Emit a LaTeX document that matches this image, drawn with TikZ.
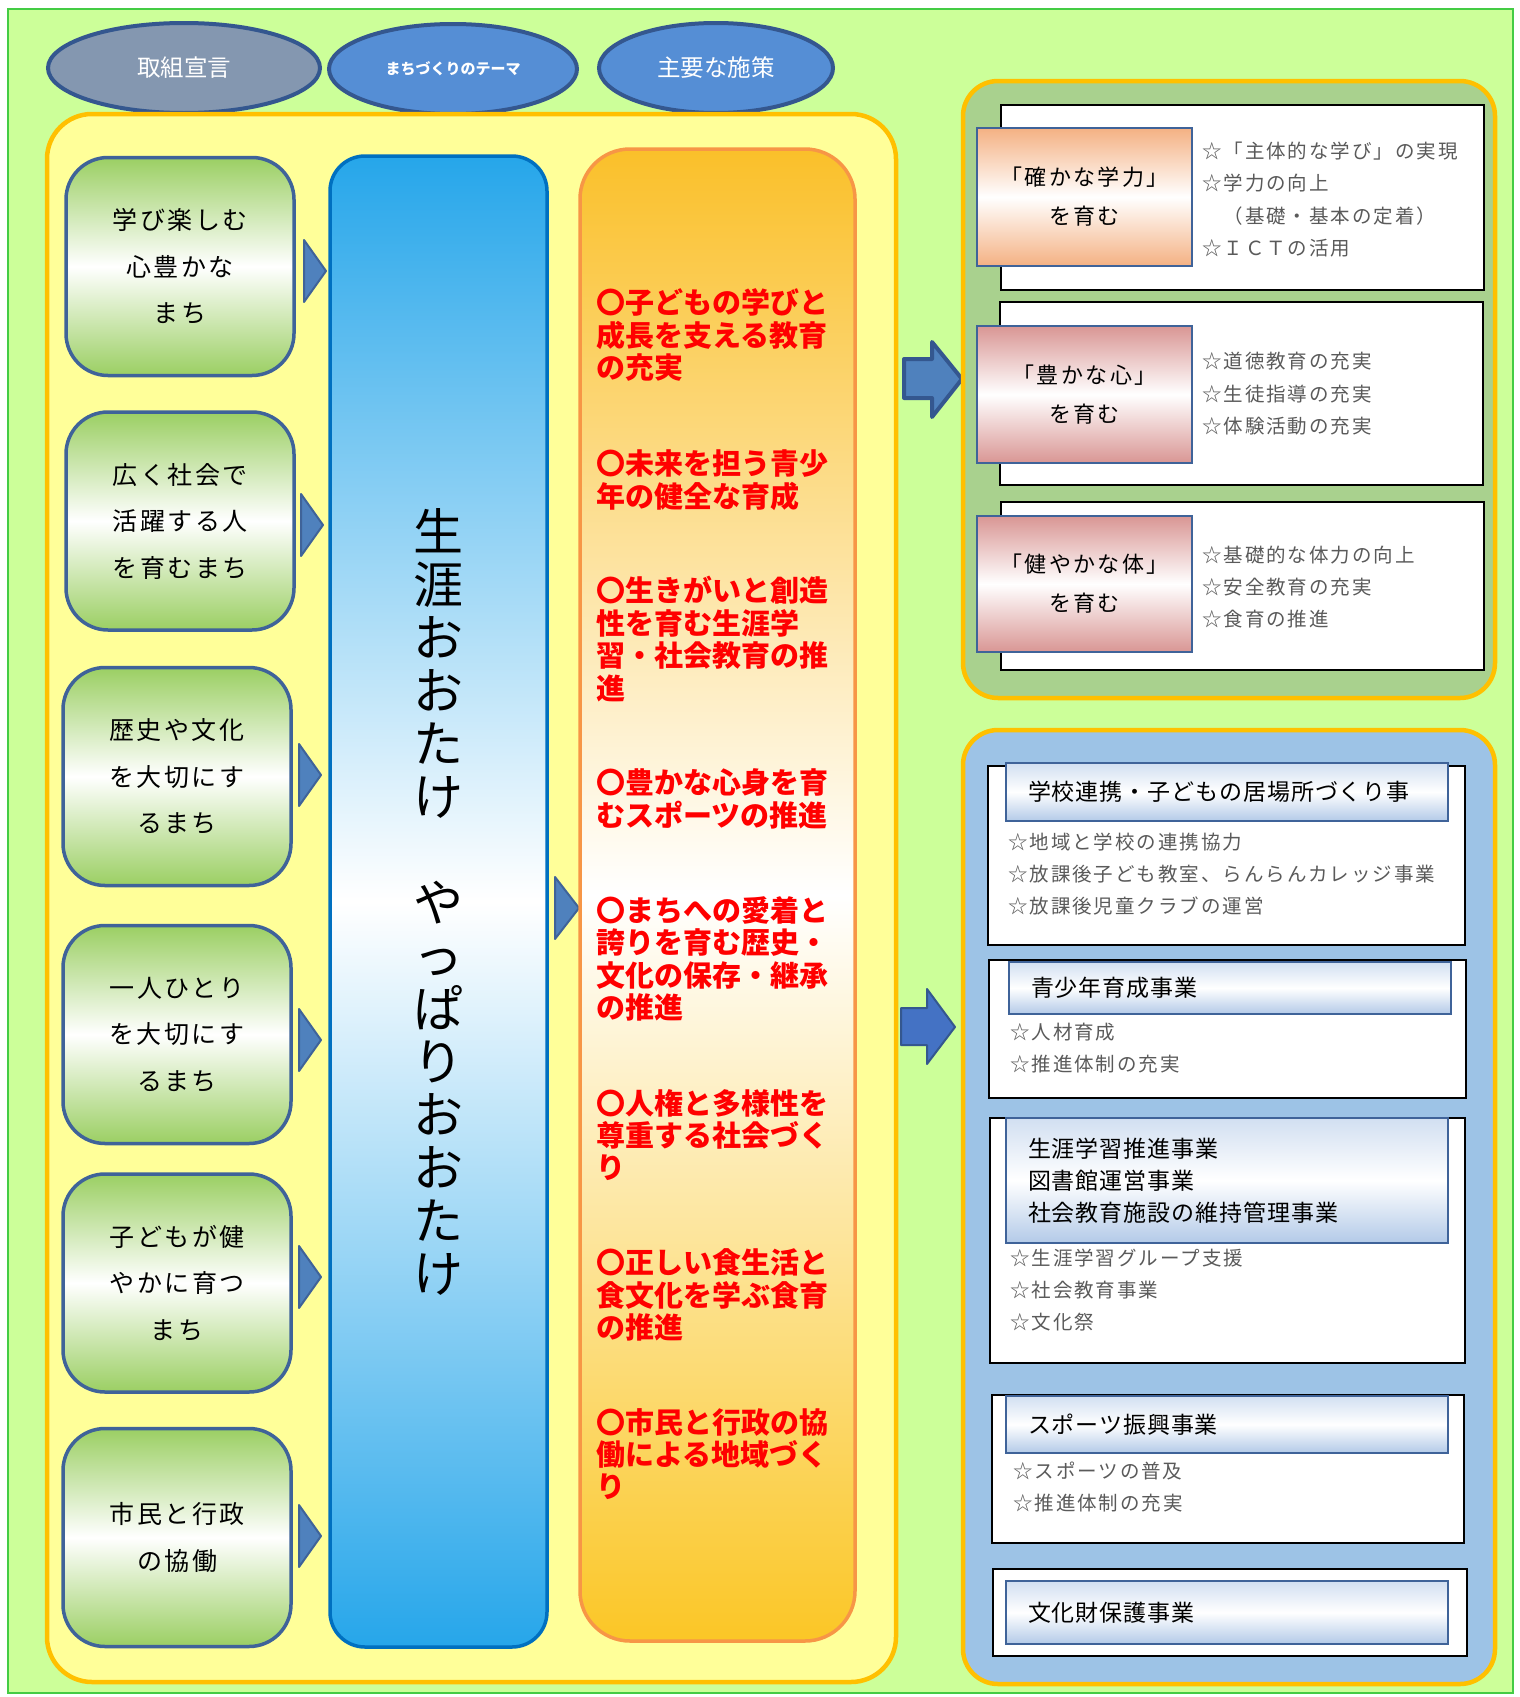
\documentclass[tikz,border=0pt]{standalone}
\usepackage{fontspec}
\setmainfont{Noto Sans CJK JP}
\newfontfamily\jp{Noto Sans CJK JP}
\newfontfamily\jpwide[LetterSpace=10]{Noto Sans CJK JP}
\newfontfamily\jpbadge[LetterSpace=11]{Noto Sans CJK JP}
\newfontfamily\jpbar[LetterSpace=4]{Noto Sans CJK JP}
\usetikzlibrary{shapes.geometric}

\definecolor{bggreen}{HTML}{CCFF99}
\definecolor{framegreen}{HTML}{44CC44}
\definecolor{paleyellow}{HTML}{FFFF99}
\definecolor{gold}{HTML}{FFC000}
\definecolor{navy}{HTML}{3F6399}
\definecolor{ringblue}{HTML}{34578F}
\definecolor{slate}{HTML}{8497B0}
\definecolor{skyblue}{HTML}{558ED5}
\definecolor{leaf}{HTML}{9BCF63}
\definecolor{sea}{HTML}{26A6EA}
\definecolor{seaedge}{HTML}{0070C0}
\definecolor{amber}{HTML}{FAC02A}
\definecolor{amberedge}{HTML}{F79646}
\definecolor{peach}{HTML}{F4B183}
\definecolor{rose}{HTML}{D99694}
\definecolor{olive}{HTML}{A9D18E}
\definecolor{iceblue}{HTML}{9DC3E6}
\definecolor{barblue}{HTML}{B3CAE8}
\definecolor{arrowblue}{HTML}{4F81BD}
\definecolor{royal}{HTML}{4472C4}
\definecolor{itemgray}{HTML}{5A5A5A}

\tikzset{
  heading/.style  = {ellipse, draw=ringblue, line width=4pt, fill=skyblue,
                     text=white, minimum height=90pt, inner sep=0pt},
  goal/.style     = {rectangle, rounded corners=42pt, draw=navy, line width=3.5pt,
                     top color=leaf, bottom color=leaf, middle color=white,
                     minimum width=228pt, minimum height=218pt, align=center,
                     font=\jpwide\fontsize{25}{46.5}\selectfont},
  pointer/.style  = {fill=arrowblue, draw=navy, line width=2pt, line join=round},
  policy/.style   = {anchor=west, align=left, inner sep=0pt, text=red,
                     font=\jp\bfseries\fontsize{29}{32.4}\selectfont},
  panel/.style    = {rectangle, rounded corners=35pt, draw=gold, line width=4.5pt},
  sheet/.style    = {rectangle, draw=black, line width=2.5pt, fill=white},
  badge/.style    = {rectangle, draw=navy, line width=2.5pt, align=center,
                     top color=#1, bottom color=#1, middle color=white,
                     minimum width=215pt,
                     font=\jpbadge\fontsize{22}{39}\selectfont},
  titlebar/.style = {rectangle, draw=navy, line width=2.5pt, align=left,
                     top color=barblue!60, bottom color=barblue, middle color=white,
                     text width=398pt, inner xsep=22pt,
                     font=\jpbar\fontsize{23}{32}\selectfont},
  itemlist/.style = {anchor=west, align=left, inner sep=0pt, text=itemgray,
                     font=\jpwide\fontsize{19.5}{32.4}\selectfont}
}

\begin{document}
\begin{tikzpicture}[x=1pt, y=-1pt]
  \useasboundingbox (0,0) rectangle (1519,1697);
  \node[rectangle, fill=bggreen, draw=framegreen, line width=1.5pt,
        minimum width=1505pt, minimum height=1684pt] (canvas) at (760.5,851) {};

  % headings
  \node[heading, fill=slate, minimum width=272pt,
        font=\jp\fontsize{23.5}{28}\selectfont] (h1) at (184,68) {取組宣言};
  \node[heading, minimum width=248pt,
        font=\jp\bfseries\fontsize{15}{18}\selectfont] (h2) at (453,69) {まちづくりのテーマ};
  \node[heading, minimum width=234pt,
        font=\jp\fontsize{23.5}{28}\selectfont] (h3) at (716,68) {主要な施策};

  % left panel
  \node[panel, fill=paleyellow, rounded corners=45pt,
        minimum width=849pt, minimum height=1568pt] (left) at (471.5,898) {};

  \node[goal] (g1) at (180,266.5) {学び楽しむ\\心豊かな\\まち};
  \node[goal] (g2) at (180,521)   {広く社会で\\活躍する人\\を育むまち};
  \node[goal] (g3) at (177,776.5) {歴史や文化\\を大切にす\\るまち};
  \node[goal] (g4) at (177,1034.5){一人ひとり\\を大切にす\\るまち};
  \node[goal] (g5) at (177,1283)  {子どもが健\\やかに育つ\\まち};
  \node[goal] (g6) at (177,1537.5){市民と行政\\の協働};

  \foreach \tx/\ty in {304/271, 301/525, 299/775, 299/1040, 299/1277, 299/1536}
    \draw[pointer] (\tx,\ty-31) -- ++(22,31) -- ++(-22,31) -- cycle;

  \node[rectangle, rounded corners=35pt, draw=seaedge, line width=3.5pt,
        top color=sea, bottom color=sea, middle color=white,
        minimum width=217pt, minimum height=1491pt, align=center,
        font=\jp\fontsize{50}{53}\selectfont] (theme) at (438.5,901.5)
        {生\\涯\\お\\お\\た\\け\\　\\や\\っ\\ぱ\\り\\お\\お\\た\\け};

  \draw[pointer] (555,877) -- ++(24,31) -- ++(-24,31) -- cycle;

  \node[rectangle, rounded corners=50pt, draw=amberedge, line width=3.5pt,
        top color=amber, bottom color=amber!90!yellow, middle color=white,
        minimum width=275pt, minimum height=1492pt] (plan) at (717.5,895) {};

  \node[policy] (p1) at (596,335)  {〇子どもの学びと\\成長を支える教育\\の充実};
  \node[policy] (p2) at (596,480)  {〇未来を担う青少\\年の健全な育成};
  \node[policy] (p3) at (596,639)  {〇生きがいと創造\\性を育む生涯学\\習・社会教育の推\\進};
  \node[policy] (p4) at (596,799)  {〇豊かな心身を育\\むスポーツの推進};
  \node[policy] (p5) at (596,959)  {〇まちへの愛着と\\誇りを育む歴史・\\文化の保存・継承\\の推進};
  \node[policy] (p6) at (596,1135) {〇人権と多様性を\\尊重する社会づく\\り};
  \node[policy] (p7) at (596,1295) {〇正しい食生活と\\食文化を学ぶ食育\\の推進};
  \node[policy] (p8) at (596,1454) {〇市民と行政の協\\働による地域づく\\り};

  % block arrows to the right
  \draw[pointer, draw=ringblue, line width=4pt]
    (904,359) -- (932,359) -- (932,342) -- (962,379) -- (932,417)
    -- (932,398) -- (904,398) -- cycle;
  \draw[pointer, fill=royal, draw=ringblue]
    (901,1008) -- (927,1008) -- (927,989) -- (955,1027) -- (927,1064)
    -- (927,1045) -- (901,1045) -- cycle;

  % upper right panel
  \node[panel, fill=olive, minimum width=532pt, minimum height=617pt] (upper) at (1229,389.5) {};
  \node[sheet, minimum width=483pt, minimum height=185pt] (w1) at (1242.5,197.5) {};
  \node[sheet, minimum width=483pt, minimum height=183pt] (w2) at (1241.5,393.5) {};
  \node[sheet, minimum width=483pt, minimum height=168pt] (w3) at (1242.5,586) {};

  \node[badge=peach, minimum height=138pt] (b1) at (1084.5,197)   {「確かな学力」\\を育む};
  \node[badge=rose,  minimum height=137pt] (b2) at (1084.5,394.5) {「豊かな心」\\を育む};
  \node[badge=rose,  minimum height=136pt] (b3) at (1084.5,584)   {「健やかな体」\\を育む};

  \node[itemlist] (l1) at (1202,199.5) {☆「主体的な学び」の実現\\☆学力の向上\\　（基礎・基本の定着）\\☆ＩＣＴの活用};
  \node[itemlist] (l2) at (1202,394)   {☆道徳教育の充実\\☆生徒指導の充実\\☆体験活動の充実};
  \node[itemlist] (l3) at (1202,587)   {☆基礎的な体力の向上\\☆安全教育の充実\\☆食育の推進};

  % lower right panel
  \node[panel, fill=iceblue, minimum width=532pt, minimum height=954pt] (lower) at (1229,1207) {};
  \node[sheet, minimum width=477pt, minimum height=179pt] (s1) at (1226.5,855.5) {};
  \node[sheet, minimum width=477pt, minimum height=138pt] (s2) at (1227.5,1029) {};
  \node[sheet, minimum width=475pt, minimum height=245pt] (s3) at (1227.5,1240.5) {};
  \node[sheet, minimum width=472pt, minimum height=148pt] (s4) at (1228,1469) {};
  \node[sheet, minimum width=474pt, minimum height=87pt]  (s5) at (1230,1612.5) {};

  \node[titlebar, minimum height=58pt]  (t1) at (1227,792)    {学校連携・子どもの居場所づくり事};
  \node[titlebar, minimum height=52pt]  (t2) at (1230,988)    {青少年育成事業};
  \node[titlebar, minimum height=125pt] (t3) at (1227,1180.5) {生涯学習推進事業\\図書館運営事業\\社会教育施設の維持管理事業};
  \node[titlebar, minimum height=57pt]  (t4) at (1227,1424.5) {スポーツ振興事業};
  \node[titlebar, minimum height=63pt]  (t5) at (1227,1612.5) {文化財保護事業};

  \node[itemlist] (m1) at (1008,874)  {☆地域と学校の連携協力\\☆放課後子ども教室、らんらんカレッジ事業\\☆放課後児童クラブの運営};
  \node[itemlist] (m2) at (1010,1048) {☆人材育成\\☆推進体制の充実};
  \node[itemlist] (m3) at (1010,1290) {☆生涯学習グループ支援\\☆社会教育事業\\☆文化祭};
  \node[itemlist] (m4) at (1013,1487) {☆スポーツの普及\\☆推進体制の充実};
\end{tikzpicture}
\end{document}
